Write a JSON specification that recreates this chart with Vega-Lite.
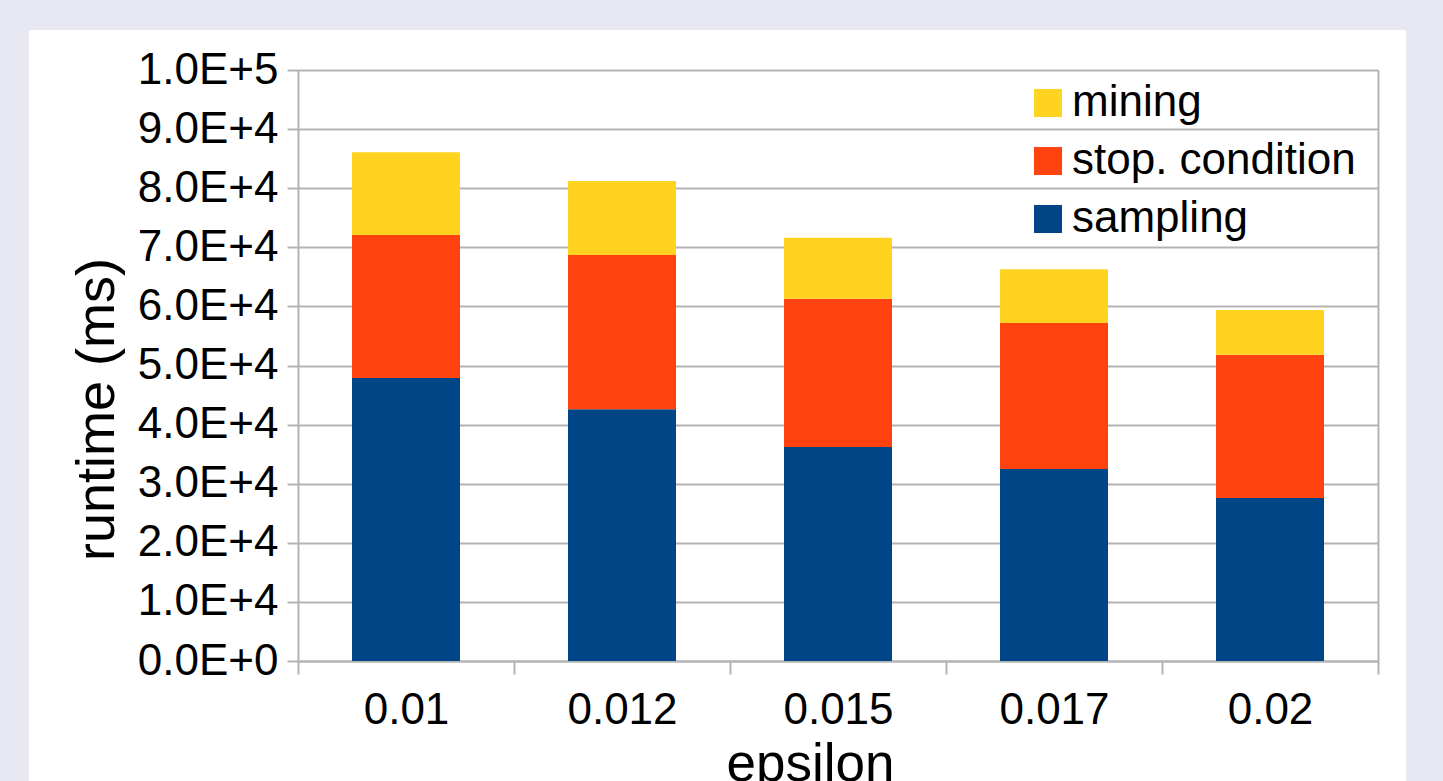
{
  "$schema": "https://vega.github.io/schema/vega-lite/v6.json",
  "width": 1377,
  "height": 751,
  "autosize": {"type": "none"},
  "padding": {"left": 29, "top": 30, "right": 37, "bottom": 0},
  "background": "#e8e8f2",
  "config": {
    "font": "Liberation Sans",
    "view": {"fill": "white", "stroke": null}
  },
  "data": {
    "values": [
      {"epsilon": "0.01", "series": "sampling", "idx": 0, "runtime": 47900},
      {"epsilon": "0.01", "series": "stop. condition", "idx": 1, "runtime": 24200},
      {"epsilon": "0.01", "series": "mining", "idx": 2, "runtime": 14000},
      {"epsilon": "0.012", "series": "sampling", "idx": 0, "runtime": 42600},
      {"epsilon": "0.012", "series": "stop. condition", "idx": 1, "runtime": 26100},
      {"epsilon": "0.012", "series": "mining", "idx": 2, "runtime": 12500},
      {"epsilon": "0.015", "series": "sampling", "idx": 0, "runtime": 36200},
      {"epsilon": "0.015", "series": "stop. condition", "idx": 1, "runtime": 25100},
      {"epsilon": "0.015", "series": "mining", "idx": 2, "runtime": 10300},
      {"epsilon": "0.017", "series": "sampling", "idx": 0, "runtime": 32500},
      {"epsilon": "0.017", "series": "stop. condition", "idx": 1, "runtime": 24700},
      {"epsilon": "0.017", "series": "mining", "idx": 2, "runtime": 9100},
      {"epsilon": "0.02", "series": "sampling", "idx": 0, "runtime": 27600},
      {"epsilon": "0.02", "series": "stop. condition", "idx": 1, "runtime": 24200},
      {"epsilon": "0.02", "series": "mining", "idx": 2, "runtime": 7600}
    ]
  },
  "encoding": {
    "x": {
      "field": "epsilon",
      "type": "nominal",
      "sort": ["0.01", "0.012", "0.015", "0.017", "0.02"],
      "scale": {"range": [269, 1349], "paddingInner": 0, "paddingOuter": 0},
      "axis": {
        "orient": "bottom",
        "offset": -120,
        "tickBand": "extent",
        "labelAngle": 0,
        "labelFontSize": 44,
        "labelColor": "black",
        "labelBaseline": "alphabetic",
        "labelPadding": 49,
        "labelFlush": false,
        "tickSize": 13,
        "tickColor": "#b3b3b3",
        "tickWidth": 2,
        "domainColor": "#b3b3b3",
        "domainWidth": 2,
        "grid": false,
        "title": "epsilon",
        "titleFontSize": 53,
        "titleFontWeight": "normal",
        "titleColor": "black",
        "titleBaseline": "alphabetic",
        "titleAlign": "center",
        "titleX": 781,
        "titleY": 119
      }
    }
  },
  "layer": [
    {
      "mark": {"type": "bar", "width": {"band": 0.5}},
      "encoding": {
        "y": {
          "field": "runtime",
          "type": "quantitative",
          "stack": "zero",
          "scale": {"domain": [0, 100000], "range": [631, 40], "nice": false},
          "axis": {
            "orient": "left",
            "offset": -269,
            "values": [0, 10000, 20000, 30000, 40000, 50000, 60000, 70000, 80000, 90000, 100000],
            "labelExpr": "replace(format(datum.value, '.1e'), 'e', 'E')",
            "labelFontSize": 44,
            "labelColor": "black",
            "labelPadding": 9,
            "labelOverlap": false,
            "labelFlush": false,
            "tickSize": 11,
            "tickColor": "#b3b3b3",
            "tickWidth": 2,
            "domainColor": "#b3b3b3",
            "domainWidth": 2,
            "grid": true,
            "gridColor": "#b3b3b3",
            "gridWidth": 2,
            "title": "runtime (ms)",
            "titleFontSize": 54,
            "titleFontWeight": "normal",
            "titleColor": "black",
            "titleAngle": -90,
            "titleBaseline": "alphabetic",
            "titleAlign": "center",
            "titleX": -185,
            "titleY": 379
          }
        },
        "color": {
          "field": "series",
          "type": "nominal",
          "scale": {
            "domain": ["mining", "stop. condition", "sampling"],
            "range": ["#ffd320", "#ff420e", "#004586"]
          },
          "legend": {
            "orient": "none",
            "legendX": 997,
            "legendY": 51,
            "title": null,
            "padding": 0,
            "symbolType": "square",
            "symbolSize": 784,
            "symbolStrokeWidth": 0,
            "symbolOpacity": 1,
            "labelFontSize": 44,
            "labelColor": "black",
            "labelOffset": 2,
            "labelLimit": 0,
            "rowPadding": 14
          }
        },
        "order": {"field": "idx", "type": "quantitative", "sort": "ascending"}
      }
    },
    {
      "mark": {"type": "bar", "width": {"band": 0.5}, "opacity": 0},
      "encoding": {
        "y": {
          "field": "runtime",
          "type": "quantitative",
          "stack": null,
          "scale": {"domain": [0, 100000], "range": [631, 40], "nice": false},
          "axis": {
            "orient": "right",
            "offset": -28,
            "labels": false,
            "ticks": false,
            "grid": false,
            "title": null,
            "domainColor": "#b3b3b3",
            "domainWidth": 2
          }
        }
      }
    }
  ],
  "resolve": {"axis": {"y": "independent"}}
}
